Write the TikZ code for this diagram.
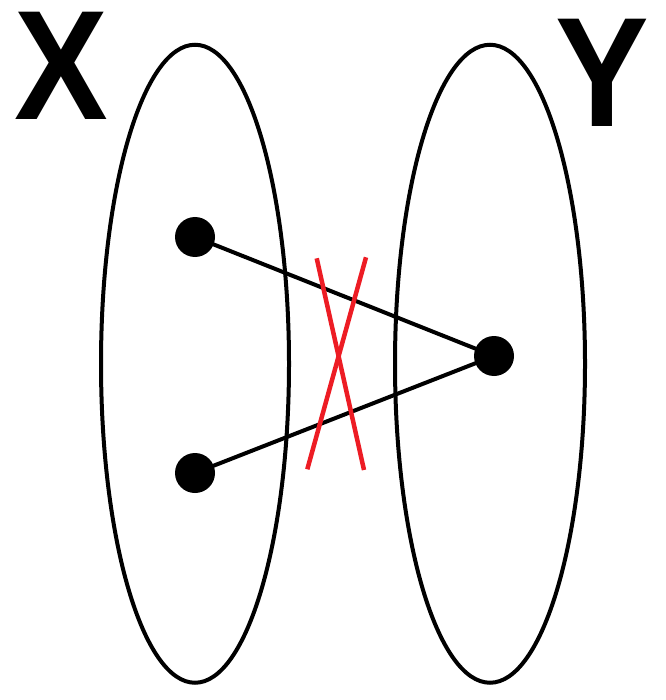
\documentclass[tikz,border=0pt]{standalone}
\usepackage{fontspec}
\setmainfont{Liberation Sans}
\begin{document}
\begin{tikzpicture}[x=1pt,y=-1pt,
  setoval/.style={draw=black,line width=4pt},
  pt/.style={circle,fill=black,inner sep=0pt,minimum size=40pt},
  link/.style={draw=black,line width=4pt},
  cross/.style={draw={rgb,255:red,237;green,28;blue,36},line width=4.5pt},
  big/.style={inner sep=0pt,font=\fontsize{156}{160}\selectfont\bfseries}]
\useasboundingbox (0,0) rectangle (665,700);
\draw[setoval] (195,363.75) ellipse [x radius=94, y radius=319];
\draw[setoval] (490,363.75) ellipse [x radius=95, y radius=319];
\node[big] (lx) at (61,66) {\scalebox{0.9}[1]{X}};
\node[big] (ly) at (602.5,73) {\scalebox{0.9}[1]{Y}};
\node[pt] (a) at (195,237) {};
\node[pt] (b) at (195,473) {};
\node[pt] (c) at (494,356) {};
\draw[link] (a.center) -- (c.center);
\draw[link] (b.center) -- (c.center);
\coordinate (r1) at (316.7,258.3);
\coordinate (r2) at (364,470);
\coordinate (r3) at (366,257.3);
\coordinate (r4) at (307.3,469.3);
\draw[cross] (r1) -- (r2);
\draw[cross] (r3) -- (r4);
\end{tikzpicture}
\end{document}
